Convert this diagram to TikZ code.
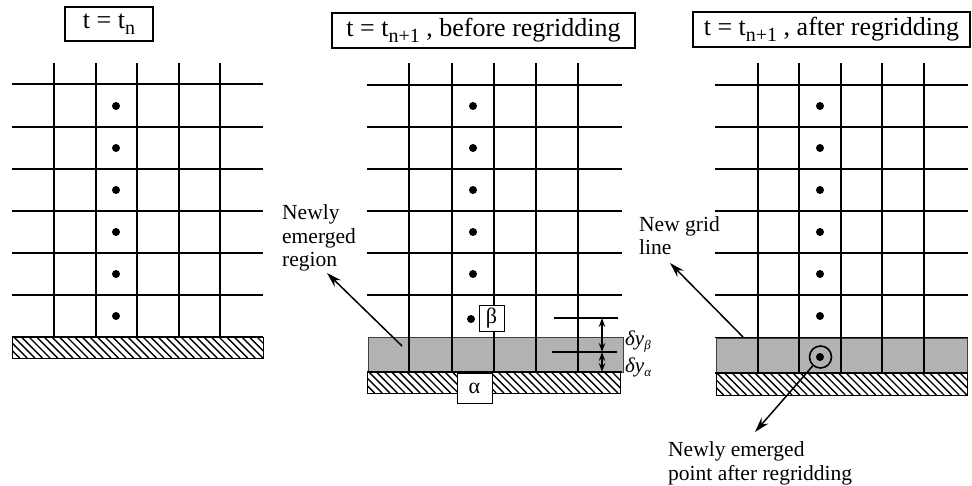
\documentclass[tikz,border=0pt]{standalone}
\usepackage{fontspec}
\setmainfont{Liberation Serif}
\usetikzlibrary{arrows.meta}
\newcommand\myhatch[4]{%
  \begin{scope}
    \clip (#1,#2) rectangle (#3,#4);
    \pgfmathsetmacro\hh{#4-#2}
    \foreach \k in {0,...,40} { \draw[hatchline] ({#1-\hh+\k*7.6},#2) -- ++(\hh,\hh); }
  \end{scope}
  \draw[line width=0.8pt] (#1,#2) rectangle (#3,#4);}
\newcommand\subtxt[1]{\raisebox{-6pt}{\fontsize{20}{20}\selectfont #1}}
\begin{document}
\begin{tikzpicture}[x=1pt,y=-1pt,
  gridline/.style={line width=1.8pt},
  dotnode/.style={circle,fill=black,inner sep=0pt,minimum size=8pt},
  titlebox/.style={draw,line width=1.6pt,inner sep=0pt,font=\fontsize{26}{30}\selectfont},
  lbl/.style={font=\fontsize{21.5}{23.5}\selectfont,align=left,inner sep=0pt},
  emerged/.style={fill=black!30,draw=black!75,line width=0.9pt},
  pointer/.style={line width=1.5pt,-{Stealth[length=15pt,width=9pt]}},
  dimarrow/.style={line width=1.5pt,{Stealth[length=9pt,width=6.5pt]}-{Stealth[length=9pt,width=6.5pt]}},
  hatchline/.style={line width=1.35pt},
  greekbox/.style={draw,fill=white,line width=0.9pt,inner sep=0pt,font=\fontsize{22}{22}\selectfont},
  dimlbl/.style={inner sep=0pt,font=\fontsize{21}{21}\selectfont\itshape}
]
\useasboundingbox[fill=white] (0,0) rectangle (972,486);

% ---------- titles ----------
\node[titlebox,minimum width=88pt,minimum height=34pt] (T1) at (109,24) {t = t\subtxt{n}\hspace{8pt}};
\node[titlebox,minimum width=303pt,minimum height=35pt] (T2) at (483.5,30.5) {t = t\subtxt{n+1} , before regridding};
\node[titlebox,minimum width=277pt,minimum height=35pt] (T3) at (831.5,29.5) {t = t\subtxt{n+1} , after regridding};

% ---------- left panel ----------
\myhatch{12}{337}{263}{358}
\foreach \x in {54,96,137,179,220} \draw[gridline] (\x,63) -- (\x,337);
\foreach \y in {84,127,169,211,253,295} \draw[gridline] (12,\y) -- (263,\y);
\draw[gridline] (12,337) -- (263,337);
\foreach \y [count=\i] in {106,148,190,232,274,316} \node[dotnode] (L\i) at (116,\y) {};

% ---------- middle panel ----------
\draw[emerged] (368,337) rectangle (623,372);
\myhatch{367}{372}{620}{393}
\foreach \x in {409,452,494,536,578} \draw[gridline] (\x,63) -- (\x,372);
\foreach \y in {85,127,169,211,253,295} \draw[gridline] (367,\y) -- (622,\y);
\draw[gridline] (367,372) -- (622,372);
\foreach \y [count=\i] in {106,148,190,232,274} \node[dotnode] (M\i) at (473,\y) {};
\node[dotnode] (Mb) at (471,319) {};
\node[greekbox,minimum width=25pt,minimum height=26pt] (beta) at (491.5,318) {β};
\node[greekbox,minimum width=35pt,minimum height=30pt] (alpha) at (474.5,388) {α};
% dimension marks
\coordinate (dA) at (602,318);
\coordinate (dB) at (602,352);
\coordinate (dC) at (602,372);
\draw[gridline] (554,318) -- (618,318);
\draw[gridline] (552,352) -- (617,352);
\draw[dimarrow] (dA) -- (dB);
\draw[dimarrow] (dB) -- (dC);
\node[dimlbl,anchor=base west] (dyb) at (625,345) {δy\raisebox{-4pt}{\fontsize{13}{13}\selectfont β}};
\node[dimlbl,anchor=base west] (dya) at (625,372) {δy\raisebox{-4pt}{\fontsize{13}{13}\selectfont α}};

% ---------- right panel ----------
\draw[emerged] (716,338) rectangle (967,373);
\myhatch{716}{373}{967}{395}
\foreach \x in {758,799,841,882,924} \draw[gridline] (\x,63) -- (\x,373);
\foreach \y in {85,127,169,211,253,295} \draw[gridline] (715,\y) -- (968,\y);
\draw[gridline] (715,337.5) -- (968,337.5);
\draw[gridline] (715,373) -- (968,373);
\foreach \y [count=\i] in {106,148,190,232,274,316} \node[dotnode] (R\i) at (820,\y) {};
\node[dotnode] (Rn) at (820,357) {};
\node[circle,draw,line width=1.6pt,minimum size=22pt,inner sep=0pt] (circ) at (820.5,357) {};

% ---------- labels and pointers ----------
\node[lbl,anchor=base west] (lblA) at (282,267) {Newly\\emerged\\region};
\coordinate (pA1) at (402,346);
\coordinate (pA2) at (327,273);
\draw[pointer] (pA1) -- (pA2);

\node[lbl,anchor=base west] (lblB) at (639,255) {New grid\\line};
\coordinate (pB1) at (743,337);
\coordinate (pB2) at (670,263);
\draw[pointer] (pB1) -- (pB2);

\node[lbl,anchor=base west] (lblC) at (668,480) {Newly emerged\\point after regridding};
\coordinate (pC2) at (755,432);
\draw[pointer] (circ) -- (pC2);
\end{tikzpicture}
\end{document}
